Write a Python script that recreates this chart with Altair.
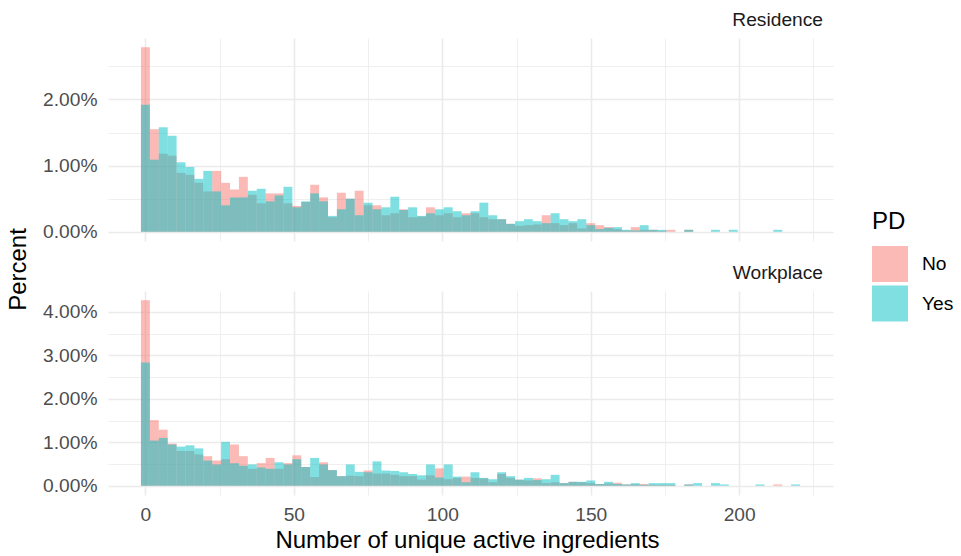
import altair as alt
import pandas as pd

# Histogram bins (width 3), centred on multiples of 3
BIN_WIDTH = 3
bin_centers = list(range(0, 222, BIN_WIDTH))  # 0 .. 219

# Percent of subjects per bin, by PD status
residence_no = [
    2.79, 1.55, 1.18, 1.15, 0.89, 0.86, 0.74, 0.61, 0.92, 0.74,
    0.64, 0.83, 0.56, 0.43, 0.58, 0.58, 0.43, 0.39, 0.45, 0.71,
    0.52, 0.22, 0.59, 0.50, 0.62, 0.40, 0.40, 0.25, 0.28, 0.34,
    0.22, 0.23, 0.37, 0.25, 0.28, 0.22, 0.28, 0.28, 0.22, 0.19,
    0.19, 0.12, 0.09, 0.10, 0.11, 0.25, 0.13, 0.10, 0.13, 0.05,
    0.13, 0.10, 0.07, 0.04, 0.02, 0.07, 0.03, 0.03, 0.01, 0.03,
    0.00, 0.03, 0.00, 0.00, 0.00, 0.00, 0.00, 0.00, 0.00, 0.00,
    0.00, 0.00, 0.00, 0.00,
]
residence_yes = [
    1.92, 1.09, 1.58, 1.45, 1.05, 0.98, 0.80, 0.92, 0.61, 0.40,
    0.52, 0.52, 0.62, 0.65, 0.46, 0.55, 0.68, 0.37, 0.46, 0.58,
    0.46, 0.24, 0.34, 0.50, 0.25, 0.44, 0.34, 0.37, 0.53, 0.33,
    0.37, 0.24, 0.28, 0.34, 0.37, 0.31, 0.25, 0.31, 0.44, 0.25,
    0.19, 0.12, 0.16, 0.19, 0.16, 0.13, 0.28, 0.19, 0.16, 0.19,
    0.10, 0.04, 0.06, 0.07, 0.03, 0.02, 0.10, 0.03, 0.03, 0.00,
    0.00, 0.03, 0.00, 0.00, 0.03, 0.00, 0.03, 0.00, 0.00, 0.00,
    0.00, 0.03, 0.00, 0.00,
]
workplace_no = [
    4.27, 1.51, 1.29, 0.97, 0.80, 0.80, 0.72, 0.68, 0.58, 0.61,
    0.95, 0.68, 0.39, 0.52, 0.64, 0.39, 0.52, 0.70, 0.43, 0.20,
    0.54, 0.36, 0.22, 0.23, 0.22, 0.35, 0.28, 0.28, 0.25, 0.22,
    0.22, 0.14, 0.24, 0.40, 0.15, 0.18, 0.21, 0.18, 0.17, 0.08,
    0.27, 0.18, 0.14, 0.12, 0.17, 0.06, 0.08, 0.06, 0.09, 0.08,
    0.06, 0.04, 0.05, 0.07, 0.03, 0.03, 0.04, 0.02, 0.02, 0.02,
    0.00, 0.03, 0.00, 0.00, 0.00, 0.00, 0.00, 0.00, 0.00, 0.00,
    0.00, 0.03, 0.00, 0.00,
]
workplace_yes = [
    2.84, 1.04, 1.10, 0.95, 0.90, 0.93, 0.86, 0.58, 0.49, 1.01,
    0.52, 0.46, 0.49, 0.42, 0.39, 0.54, 0.49, 0.61, 0.43, 0.64,
    0.49, 0.36, 0.22, 0.49, 0.32, 0.31, 0.56, 0.35, 0.34, 0.31,
    0.27, 0.24, 0.49, 0.19, 0.49, 0.21, 0.08, 0.31, 0.18, 0.15,
    0.31, 0.22, 0.14, 0.18, 0.13, 0.15, 0.25, 0.06, 0.09, 0.09,
    0.12, 0.04, 0.09, 0.04, 0.03, 0.06, 0.02, 0.06, 0.06, 0.06,
    0.00, 0.03, 0.06, 0.00, 0.06, 0.03, 0.00, 0.00, 0.00, 0.03,
    0.00, 0.00, 0.00, 0.03,
]

pd_levels = ["No", "Yes"]
pd_colors = ["#F8766D", "#00BFC4"]

FONT = "Liberation Sans"
GRID = "#EBEBEB"
PANEL_W, PANEL_H = 725, 203


def build_frame(no_vals, yes_vals):
    rows = []
    for label, vals in (("No", no_vals), ("Yes", yes_vals)):
        for c, v in zip(bin_centers, vals):
            rows.append({"PD": label, "center": c, "pct": v})
    return pd.DataFrame(rows)


res_df = build_frame(residence_no, residence_yes)
work_df = build_frame(workplace_no, workplace_yes)

# x scale spans all non-empty bins plus 5% expansion on each side
all_vals = [residence_no, residence_yes, workplace_no, workplace_yes]
last_bin = max(i for vals in all_vals for i, v in enumerate(vals) if v > 0)
x_lo = bin_centers[0] - BIN_WIDTH / 2
x_hi = bin_centers[last_bin] + BIN_WIDTH / 2
x_pad = 0.05 * (x_hi - x_lo)
x_domain = [x_lo - x_pad, x_hi + x_pad]

legend = alt.Legend(
    title="PD",
    orient="none",
    legendX=764,
    legendY=172,
    padding=0,
    titleFont=FONT,
    titleFontSize=24,
    titleFontWeight="normal",
    titleColor="#000000",
    titlePadding=12,
    labelFont=FONT,
    labelFontSize=19.2,
    labelColor="#000000",
    labelOffset=14,
    symbolType="square",
    symbolSize=1296,
    symbolStrokeWidth=0,
    symbolOpacity=0.5,
    rowPadding=3.5,
)


def panel(df, name, y_ticks, bottom):
    ymax = df["pct"].max()
    y_domain = [-0.05 * ymax, 1.05 * ymax]

    x_axis_kw = dict(
        values=list(range(0, 226, 25)),
        grid=True,
        gridColor=GRID,
        gridWidth={"condition": {"test": "datum.value % 50 === 0", "value": 1.6},
                   "value": 0.8},
        ticks=False,
        domain=False,
        labelFlush=False,
        labelOverlap=False,
    )
    if bottom:
        x_axis = alt.Axis(
            **x_axis_kw,
            labels=True,
            labelExpr="datum.value % 50 === 0 ? datum.label : ''",
            labelFont=FONT,
            labelFontSize=19.2,
            labelColor="#4D4D4D",
            labelPadding=10,
            title="Number of unique active ingredients",
            titleFont=FONT,
            titleFontSize=24,
            titleFontWeight="normal",
            titleColor="#000000",
            titleX=359,
            titleY=52.5,
            titleBaseline="alphabetic",
        )
    else:
        x_axis = alt.Axis(**x_axis_kw, labels=False, title=None)

    y_axis_kw = dict(
        values=y_ticks,
        grid=True,
        gridColor=GRID,
        gridWidth={"condition": {"test": "datum.value % 1 === 0", "value": 1.6},
                   "value": 0.8},
        ticks=False,
        domain=False,
        labelOverlap=False,
        labelExpr="datum.value % 1 === 0 ? format(datum.value, '.2f') + '%' : ''",
        labelFont=FONT,
        labelFontSize=19.2,
        labelColor="#4D4D4D",
        labelPadding=11,
    )
    if bottom:
        y_axis = alt.Axis(**y_axis_kw, title=None)
    else:
        y_axis = alt.Axis(
            **y_axis_kw,
            title="Percent",
            titleFont=FONT,
            titleFontSize=24,
            titleFontWeight="normal",
            titleColor="#000000",
            titleAngle=270,
            titleAlign="center",
            titleBaseline="middle",
            titleX=-90,
            titleY=231,
        )

    return (
        alt.Chart(df)
        .transform_filter("datum.pct > 0")
        .transform_calculate(
            x0=f"datum.center - {BIN_WIDTH / 2}",
            x1=f"datum.center + {BIN_WIDTH / 2}",
        )
        .mark_rect(opacity=0.5, strokeWidth=0)
        .encode(
            x=alt.X("x0:Q", scale=alt.Scale(domain=x_domain, nice=False, zero=False),
                    axis=x_axis),
            x2="x1:Q",
            y=alt.Y("pct:Q", scale=alt.Scale(domain=y_domain, nice=False, zero=False),
                    axis=y_axis),
            y2=alt.datum(0),
            color=alt.Color("PD:N",
                            scale=alt.Scale(domain=pd_levels, range=pd_colors),
                            legend=legend),
        )
        .properties(
            width=PANEL_W,
            height=PANEL_H if not bottom else PANEL_H + 1,
            title=alt.TitleParams(
                name,
                anchor="end",
                frame="group",
                font=FONT,
                fontSize=19.2,
                fontWeight="normal",
                color="#1A1A1A",
                baseline="alphabetic",
                offset=12,
                dx=-10,
                dy=19,
            ),
        )
    )


top = panel(res_df, "Residence", [0, 0.5, 1, 1.5, 2, 2.5], bottom=False)
bottom = panel(work_df, "Workplace", [0, 0.5, 1, 1.5, 2, 2.5, 3, 3.5, 4], bottom=True)

chart = (
    alt.vconcat(top, bottom, spacing=50, bounds="flush")
    .properties(
        padding={"left": 6, "top": 10, "right": 0, "bottom": 0},
        background="#FFFFFF",
    )
    .configure_view(stroke=None)
)

chart.save("out.html", embed_options={"renderer": "svg", "actions": False})
